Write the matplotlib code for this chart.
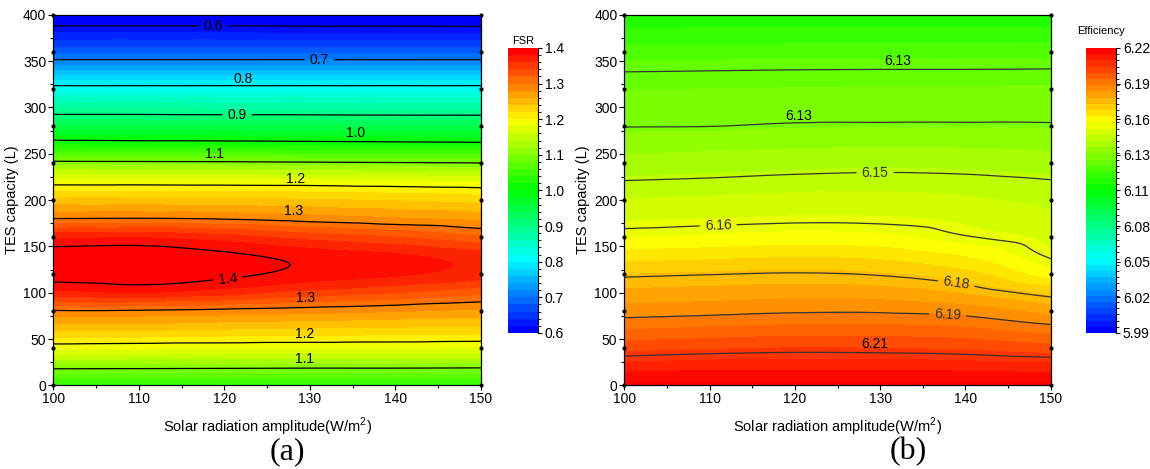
import numpy as np
import matplotlib
matplotlib.use("Agg")
import matplotlib.pyplot as plt
import matplotlib.tri as mtri
from matplotlib.colors import LinearSegmentedColormap, BoundaryNorm, Normalize
from matplotlib.cm import ScalarMappable
from matplotlib.ticker import MultipleLocator

plt.rcParams['font.family'] = ['Liberation Sans', 'DejaVu Sans']
plt.rcParams['mathtext.fontset'] = 'custom'
plt.rcParams['mathtext.rm'] = 'Liberation Sans'

# grid
amplitude = [100, 110, 120, 130, 140, 150]
capacity = [0, 20, 40, 60, 80, 100, 120, 140, 160, 180, 200,
            220, 240, 260, 280, 300, 320, 340, 360, 380, 400]

# (a) FSR, one column per solar amplitude
fsr_100 = [1.035, 1.108, 1.185, 1.243, 1.297, 1.372, 1.413, 1.414, 1.375, 1.300, 1.246,
           1.188, 1.108, 1.018, 0.943, 0.875, 0.812, 0.738, 0.674, 0.621, 0.568]
fsr_110 = [1.035, 1.107, 1.183, 1.242, 1.296, 1.380, 1.415, 1.416, 1.378, 1.301, 1.246,
           1.188, 1.107, 1.016, 0.942, 0.875, 0.812, 0.738, 0.674, 0.621, 0.568]
fsr_120 = [1.035, 1.106, 1.182, 1.238, 1.292, 1.368, 1.406, 1.405, 1.368, 1.298, 1.245,
           1.187, 1.106, 1.015, 0.941, 0.874, 0.812, 0.738, 0.674, 0.621, 0.568]
fsr_130 = [1.035, 1.105, 1.181, 1.235, 1.287, 1.352, 1.392, 1.392, 1.352, 1.290, 1.242,
           1.186, 1.104, 1.013, 0.940, 0.874, 0.812, 0.738, 0.674, 0.620, 0.568]
fsr_140 = [1.035, 1.105, 1.180, 1.233, 1.281, 1.340, 1.383, 1.383, 1.340, 1.282, 1.238,
           1.183, 1.102, 1.011, 0.939, 0.873, 0.812, 0.738, 0.673, 0.620, 0.568]
fsr_150 = [1.035, 1.104, 1.178, 1.231, 1.275, 1.325, 1.370, 1.370, 1.323, 1.274, 1.232,
           1.180, 1.100, 1.009, 0.938, 0.873, 0.812, 0.738, 0.673, 0.619, 0.568]

# (b) efficiency
eff_100 = [6.2220, 6.2123, 6.2033, 6.1950, 6.1875, 6.1813, 6.1749, 6.1673, 6.1597, 6.1543, 6.1503,
           6.1462, 6.1420, 6.1378, 6.1338, 6.1318, 6.1299, 6.1277, 6.1221, 6.1165, 6.1110]
eff_110 = [6.2220, 6.2132, 6.2045, 6.1962, 6.1884, 6.1821, 6.1758, 6.1683, 6.1608, 6.1550, 6.1509,
           6.1468, 6.1426, 6.1383, 6.1339, 6.1320, 6.1300, 6.1279, 6.1222, 6.1166, 6.1110]
eff_120 = [6.2220, 6.2135, 6.2052, 6.1972, 6.1894, 6.1829, 6.1765, 6.1692, 6.1619, 6.1557, 6.1516,
           6.1476, 6.1434, 6.1390, 6.1345, 6.1322, 6.1301, 6.1281, 6.1224, 6.1167, 6.1110]
eff_130 = [6.2220, 6.2134, 6.2050, 6.1972, 6.1894, 6.1824, 6.1755, 6.1684, 6.1613, 6.1555, 6.1517,
           6.1480, 6.1438, 6.1392, 6.1346, 6.1322, 6.1302, 6.1282, 6.1226, 6.1168, 6.1110]
eff_140 = [6.2220, 6.2129, 6.2042, 6.1961, 6.1879, 6.1794, 6.1717, 6.1645, 6.1574, 6.1539, 6.1507,
           6.1475, 6.1435, 6.1391, 6.1346, 6.1322, 6.1302, 6.1282, 6.1227, 6.1168, 6.1110]
eff_150 = [6.2220, 6.2121, 6.2023, 6.1927, 6.1833, 6.1737, 6.1625, 6.1562, 6.1536, 6.1511, 6.1487,
           6.1463, 6.1425, 6.1385, 6.1345, 6.1323, 6.1303, 6.1283, 6.1229, 6.1169, 6.1110]

# contour lines: ones with the label cut into the line, and plain ones
fsr_inline = [0.6, 0.7, 0.9, 1.4]
fsr_plain = [0.8, 1.0, 1.1, 1.2, 1.3]
fsr_ticks = [0.6, 0.7, 0.8, 0.9, 1.0, 1.1, 1.2, 1.3, 1.4]
eff_inline = [6.146, 6.157, 6.176, 6.19]
eff_plain = [6.128, 6.134, 6.207]
eff_ticks = [5.99, 6.02, 6.05, 6.08, 6.11, 6.13, 6.16, 6.19, 6.22]
eff_tick_pos = np.linspace(5.99, 6.22, 9)

# measurement points shown on the edges
dot_amp = [100, 150]
dot_cap = [0, 40, 80, 120, 160, 200, 240, 280, 320, 360, 400]

rainbow = LinearSegmentedColormap.from_list(
    'origin_rainbow', ['#0000ff', '#00ffff', '#00ff00', '#ffff00', '#ff0000'], N=256)

X, Y = np.meshgrid(amplitude, capacity)
Z_fsr = np.column_stack([fsr_100, fsr_110, fsr_120, fsr_130, fsr_140, fsr_150])
Z_eff = np.column_stack([eff_100, eff_110, eff_120, eff_130, eff_140, eff_150])

# triangulate with square cells (10 W/m2 x 20 L), diagonals all one way
nr, nc = Y.shape
tris = []
for i in range(nr - 1):
    for j in range(nc - 1):
        a = i * nc + j
        tris.append([a, a + 1, a + nc + 1])
        tris.append([a, a + nc + 1, a + nc])
tri = mtri.Triangulation((X.ravel() - 100) / 10.0, Y.ravel() / 20.0, np.array(tris))
refiner = mtri.UniformTriRefiner(tri)

fig = plt.figure(figsize=(11.5, 4.69), dpi=100)
ax1 = fig.add_axes([0.0463, 0.1783, 0.3720, 0.7904])
cax1 = fig.add_axes([0.4417, 0.29, 0.0261, 0.6077])
ax2 = fig.add_axes([0.5429, 0.1783, 0.3708, 0.7904])
cax2 = fig.add_axes([0.9443, 0.29, 0.0261, 0.6077])


def panel(ax, cax, Z, lo, hi, nband, inline_lv, plain_lv, line_color):
    interp = mtri.CubicTriInterpolator(tri, Z.ravel(), kind='geom')
    tri_f, z_f = refiner.refine_field(Z.ravel(), triinterpolator=interp, subdiv=3)
    tri_f = mtri.Triangulation(tri_f.x * 10.0 + 100, tri_f.y * 20.0, tri_f.triangles)
    fill_levels = np.linspace(lo, hi, nband + 1)
    ax.tricontourf(tri_f, z_f, levels=fill_levels, cmap=rainbow,
                   norm=Normalize(lo, hi), extend='both')
    ax.tricontour(tri_f, z_f, levels=plain_lv, colors=line_color, linewidths=0.9)
    cs = ax.tricontour(tri_f, z_f, levels=inline_lv, colors=line_color, linewidths=0.9)
    ax.scatter(np.repeat(dot_amp, len(dot_cap)), np.tile(dot_cap, len(dot_amp)),
               s=4, color='black', zorder=5, clip_on=False)

    ax.set_xlim(100, 150)
    ax.set_ylim(0, 400)
    ax.xaxis.set_major_locator(MultipleLocator(10))
    ax.xaxis.set_minor_locator(MultipleLocator(5))
    ax.yaxis.set_major_locator(MultipleLocator(50))
    ax.yaxis.set_minor_locator(MultipleLocator(25))
    ax.tick_params(which='major', direction='out', length=3.5, width=0.8, labelsize=10, pad=1.5)
    ax.tick_params(which='minor', direction='out', length=2, width=0.8)
    for s in ax.spines.values():
        s.set_linewidth(0.9)
    ax.set_xlabel('Solar radiation amplitude(W/m$^2$)', fontsize=10.5, labelpad=7)
    ax.set_ylabel('TES capacity (L)', fontsize=10.5, labelpad=3)

    sm = ScalarMappable(norm=BoundaryNorm(fill_levels, rainbow.N), cmap=rainbow)
    cb = fig.colorbar(sm, cax=cax)
    cb.outline.set_visible(False)
    cax.plot([1, 1], [0, 1], transform=cax.transAxes, color='black', lw=0.8, clip_on=False)
    cax.tick_params(direction='out', length=3, width=0.8, labelsize=10, pad=2)
    return cs, cb


cs1, cb1 = panel(ax1, cax1, Z_fsr, 0.6, 1.4, 40, fsr_inline, fsr_plain, 'black')
cb1.set_ticks(fsr_ticks)
cb1.set_ticklabels(['%.1f' % t for t in fsr_ticks])
cax1.set_title('FSR', fontsize=8, pad=3)

cs2, cb2 = panel(ax2, cax2, Z_eff, 5.99, 6.22, 46, eff_inline, eff_plain, '#333333')
cb2.set_ticks(eff_tick_pos)
cb2.set_ticklabels(['%.2f' % t for t in eff_ticks])
cax2.set_title('Efficiency', fontsize=8, pad=10)

# labels broken into the line
ax1.clabel(cs1, fmt='%.1f', fontsize=10, inline=True,
           manual=[(118.7, 387.7), (131.1, 349.6), (121.5, 291.7), (120.4, 114.4)])
ax2.clabel(cs2, fmt='%.2f', fontsize=10, inline=True,
           manual=[(129.4, 228.8), (111.0, 171.2), (138.9, 109.7), (137.9, 76.7)])

# labels sitting just above their line
fsr_above = [(0.8, 122.2, 330.5), (1.0, 135.3, 272.3), (1.1, 118.8, 249.6), (1.2, 128.3, 222.7),
             (1.3, 128.1, 188.5), (1.3, 129.5, 94.0), (1.2, 129.4, 55.1), (1.1, 129.4, 28.2)]
for lev, x, y in fsr_above:
    ax1.text(x, y, '%.1f' % lev, fontsize=10, ha='center', va='center')
eff_above = [(6.128, 132.1, 350.0), (6.134, 120.4, 291.0), (6.207, 129.4, 44.3)]
for lev, x, y in eff_above:
    ax2.text(x, y, '%.2f' % lev, fontsize=10, ha='center', va='center')

fig.text(287 / 1150, 1 - 452 / 469, '(a)', fontsize=23, family='Liberation Serif',
         ha='center', va='center')
fig.text(908 / 1150, 1 - 452 / 469, '(b)', fontsize=23, family='Liberation Serif',
         ha='center', va='center')

fig.savefig('out.png', dpi=100)
